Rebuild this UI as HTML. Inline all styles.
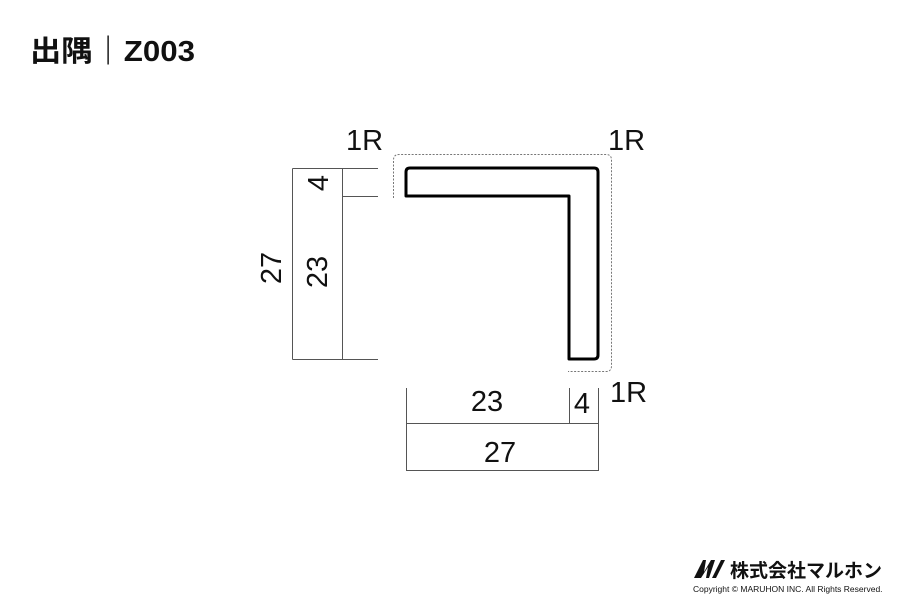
<!DOCTYPE html>
<html><head><meta charset="utf-8"><style>
html,body{margin:0;padding:0;background:#fff;width:900px;height:600px;overflow:hidden}
svg{display:block}
text{font-family:"Liberation Sans","Noto Sans CJK JP",sans-serif;fill:#111}
</style></head><body>
<svg width="900" height="600" viewBox="0 0 900 600" xmlns="http://www.w3.org/2000/svg">
<text x="30" y="61" font-size="29" font-weight="bold" textLength="165" lengthAdjust="spacingAndGlyphs">出隅｜Z003</text>

<path d="M393.5 198 V160 Q393.5 154.5 399 154.5 H606 Q611.5 154.5 611.5 160 V366 Q611.5 371.5 606 371.5 H568" fill="none" stroke="#777" stroke-width="1" stroke-dasharray="2,1.5"/>
<path d="M406 196 V172 Q406 168 410 168 H594 Q598 168 598 172 V355 Q598 359 594 359 H569 V196 Z" fill="#fff" stroke="#000" stroke-width="3" stroke-linejoin="round"/>

<g stroke="#555" stroke-width="1" fill="none">
<path d="M292.5 168.5 H378 M292.5 359.5 H378 M342.5 196.5 H378 M292.5 168.5 V359.5 M342.5 168.5 V359.5"/>
<path d="M406.5 388 V470.5 H598.5 V388 M406.5 423.5 H598.5 M569.5 388 V423.5"/>
</g>
<text font-size="29" text-anchor="middle" transform="translate(281,268) rotate(-90)">27</text>
<text font-size="29" text-anchor="middle" transform="translate(327,272) rotate(-90)">23</text>
<text font-size="29" text-anchor="middle" transform="translate(328,183) rotate(-90)">4</text>
<text x="487" y="411" font-size="29" text-anchor="middle">23</text>
<text x="582" y="413" font-size="29" text-anchor="middle">4</text>
<text x="500" y="462" font-size="29" text-anchor="middle">27</text>
<text x="346" y="150" font-size="29">1R</text>
<text x="608" y="150" font-size="29">1R</text>
<text x="610" y="402" font-size="29">1R</text>

<path d="M694 578 L703 560 L706 560 L704 572 L711 560 L715 560 L709 578 L706 578 L708 567 L701 578 Z M712 578 L721 560 L725 560 L716 578 Z" fill="#111"/>
<text x="730" y="577" font-size="19" font-weight="bold">株式会社マルホン</text>
<text x="693" y="592" font-size="8.5" fill="#333">Copyright © MARUHON INC. All Rights Reserved.</text>
</svg>
</body></html>
